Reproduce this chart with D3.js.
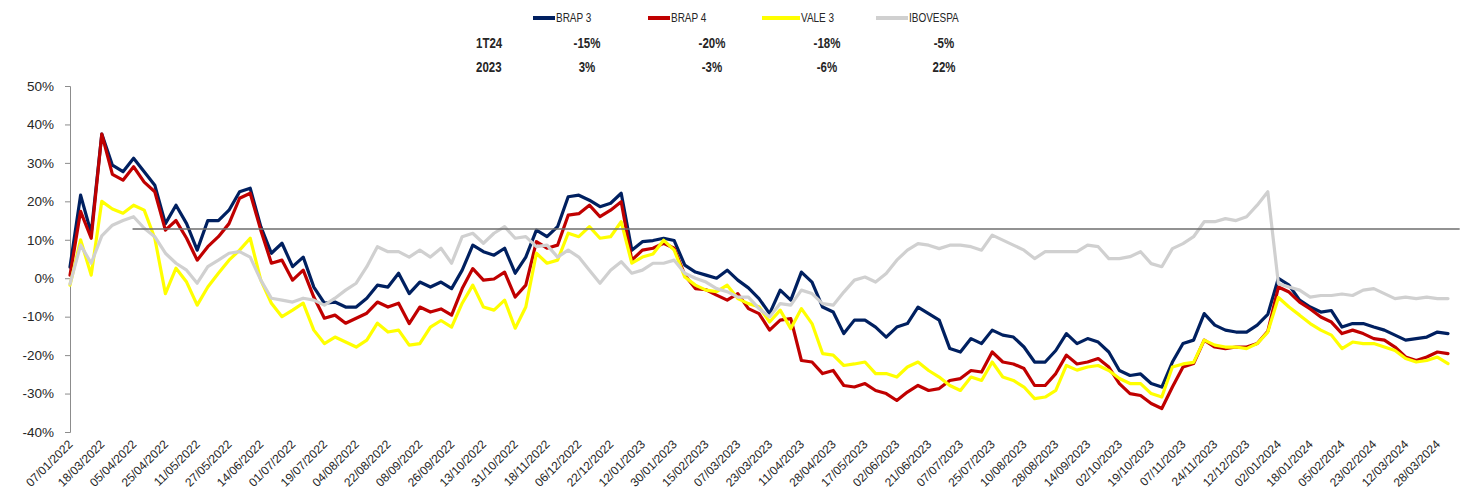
<!DOCTYPE html>
<html><head><meta charset="utf-8">
<script src="https://cdn.jsdelivr.net/npm/d3@7"></script>
<style>
html,body{margin:0;padding:0;background:#fff;}
svg{display:block;}
</style></head>
<body>
<div id="chart"></div>
<script>
// ---- data ----
const tickLabels = ["07/01/2022","18/03/2022","05/04/2022","25/04/2022","11/05/2022","27/05/2022","14/06/2022","01/07/2022","19/07/2022","04/08/2022","22/08/2022","08/09/2022","26/09/2022","13/10/2022","31/10/2022","18/11/2022","06/12/2022","22/12/2022","12/01/2023","30/01/2023","15/02/2023","07/03/2023","23/03/2023","11/04/2023","28/04/2023","17/05/2023","02/06/2023","21/06/2023","07/07/2023","25/07/2023","10/08/2023","28/08/2023","14/09/2023","02/10/2023","19/10/2023","07/11/2023","24/11/2023","12/12/2023","02/01/2024","18/01/2024","05/02/2024","23/02/2024","12/03/2024","28/03/2024"];
const yTicks = [50,40,30,20,10,0,-10,-20,-30,-40];
const seriesNames = ["BRAP 3","BRAP 4","VALE 3","IBOVESPA"];
const rowLabels = ["1T24","2023"];
const perf1T24 = ["-15%","-20%","-18%","-5%"];
const perf2023 = ["3%","-3%","-6%","22%"];

const brap3 = [2.9,21.6,11.7,37.5,29.4,27.7,31.2,27.7,24.2,14.2,19.0,14.2,7.3,15.0,15.0,17.7,22.5,23.4,13.4,6.5,9.1,3.0,5.5,-2.3,-6.5,-6.2,-7.5,-7.5,-5.2,-1.8,-2.3,1.3,-4.0,-1.0,-2.3,-1.0,-2.7,2.1,8.6,6.9,6.0,7.8,1.3,5.5,12.5,10.8,13.4,21.2,21.6,20.3,18.6,19.5,22.1,7.3,9.5,9.8,10.4,9.8,3.4,1.6,0.8,0.0,2.1,-0.5,-2.5,-5.3,-9.2,-3.1,-5.7,1.6,-1.0,-7.5,-8.8,-14.4,-10.9,-10.9,-12.7,-15.3,-12.7,-11.8,-7.5,-9.2,-10.9,-18.3,-19.2,-15.7,-17.0,-13.5,-14.8,-15.3,-17.9,-21.8,-21.8,-18.8,-14.4,-17.0,-15.7,-16.6,-19.2,-24.0,-25.3,-24.9,-27.4,-28.3,-21.8,-17.0,-16.1,-9.2,-12.2,-13.5,-14.0,-14.0,-12.2,-9.4,0.0,-1.8,-5.7,-7.5,-8.8,-8.4,-12.7,-11.8,-11.8,-12.7,-13.5,-14.8,-16.1,-15.7,-15.3,-14.0,-14.4];
const brap4 = [0.8,17.4,10.4,37.5,27.0,25.5,29.0,25.0,22.5,12.5,15.0,10.4,4.7,8.2,10.8,14.2,20.8,22.1,12.5,3.9,4.7,-0.5,2.1,-4.9,-10.4,-9.6,-11.7,-10.4,-9.1,-6.2,-7.5,-6.5,-11.8,-7.5,-8.8,-8.0,-9.6,-2.7,2.5,-0.5,-0.2,1.6,-4.9,-1.8,9.5,7.8,8.6,16.4,16.8,19.0,16.0,17.7,19.9,4.7,7.3,7.8,9.1,7.8,0.8,-2.7,-3.0,-4.4,-5.7,-4.0,-7.9,-9.2,-13.5,-10.9,-10.5,-21.4,-21.8,-24.8,-24.0,-27.9,-28.3,-27.4,-29.2,-30.0,-31.8,-29.6,-27.9,-29.2,-28.7,-26.6,-26.1,-24.0,-24.4,-19.2,-21.8,-22.3,-23.5,-27.9,-27.9,-24.8,-20.0,-22.3,-21.8,-20.9,-23.1,-27.4,-30.0,-30.5,-32.6,-33.9,-28.3,-23.1,-22.2,-16.1,-17.9,-18.3,-17.9,-17.9,-17.0,-13.8,-2.3,-3.6,-6.2,-8.0,-10.1,-11.4,-14.4,-13.5,-14.4,-15.7,-16.1,-17.9,-20.5,-21.4,-20.5,-19.2,-19.6];
const vale3 = [-1.8,10.0,0.8,20.0,18.0,16.9,19.0,17.7,10.4,-4.0,2.6,-1.0,-7.0,-2.3,1.3,4.7,7.3,10.4,-0.5,-6.5,-10.0,-8.3,-6.5,-13.5,-17.0,-15.3,-16.6,-17.9,-16.1,-11.7,-14.0,-13.5,-17.4,-17.0,-12.7,-11.0,-12.7,-6.5,-1.8,-7.5,-8.3,-5.7,-13.0,-7.5,6.5,3.9,4.7,11.7,10.8,13.4,10.4,10.8,14.7,3.9,5.5,6.3,9.9,7.3,0.3,-1.8,-3.1,-3.5,-1.8,-5.3,-6.6,-7.4,-11.4,-8.3,-13.1,-7.9,-11.8,-19.6,-20.0,-22.7,-22.3,-21.8,-24.8,-24.8,-25.7,-23.1,-21.8,-24.0,-25.7,-27.9,-29.2,-25.7,-26.6,-21.8,-25.7,-26.6,-28.3,-31.3,-30.9,-29.2,-22.7,-23.9,-23.1,-22.7,-24.0,-26.1,-27.4,-27.4,-30.0,-30.9,-23.1,-22.3,-21.9,-16.1,-17.4,-17.9,-17.9,-18.3,-17.0,-14.0,-5.0,-7.5,-9.6,-11.8,-13.5,-14.8,-18.3,-16.6,-17.0,-17.0,-17.9,-18.8,-20.9,-21.8,-21.4,-20.5,-22.2];
const ibov = [-1.5,8.6,3.9,11.0,13.8,15.0,16.0,13.0,10.8,6.5,3.9,2.1,-1.3,3.0,4.7,6.5,6.9,5.5,-0.5,-5.2,-5.7,-6.2,-5.2,-5.7,-7.0,-5.2,-3.1,-1.3,3.0,8.2,6.9,6.9,5.5,7.3,5.5,7.8,3.9,10.8,11.7,9.1,11.7,13.4,10.4,10.8,8.2,8.6,5.5,7.3,5.5,2.1,-1.3,2.1,4.3,1.3,2.1,3.9,3.9,4.7,1.3,0.0,-1.0,-2.7,-3.5,-4.9,-4.9,-7.9,-10.1,-6.6,-7.0,-3.1,-4.0,-6.6,-7.0,-3.6,-0.5,0.3,-1.0,1.2,4.7,7.3,9.0,8.6,7.7,8.6,8.6,8.2,7.3,11.2,9.9,8.6,7.3,5.1,6.9,6.9,6.9,6.9,8.6,8.2,5.1,5.1,5.6,6.9,3.8,3.0,7.7,9.0,10.8,14.7,14.7,15.5,15.0,16.0,19.0,22.5,-1.4,-2.3,-3.1,-4.9,-4.5,-4.5,-4.1,-4.5,-3.1,-2.7,-4.0,-5.3,-4.9,-5.3,-4.9,-5.3,-5.3];
const refLevel = [12.8];
const refSpan = [5.9, 131.1]; // in category index units

// ---- layout ----
const W = 1466, H = 493;
const colors = ["#002060","#C00000","#FFFF00","#D0D0D0"];
const svg = d3.select("#chart").append("svg").attr("width", W).attr("height", H);

const N = brap3.length;
const x = d3.scaleLinear().domain([0, N-1]).range([70, 1448]);
const y = d3.scaleLinear().domain([-40, 50]).range([432, 86]);

// y axis
const yAxis = d3.axisLeft(y).tickValues(yTicks).tickSize(5).tickPadding(11)
  .tickFormat(d => d + "%");
const gy = svg.append("g").attr("transform", "translate(70,0)").call(yAxis);
gy.select(".domain").attr("stroke", "#8c8c8c");
gy.selectAll(".tick line").attr("stroke", "#8c8c8c");
gy.selectAll(".tick text").attr("fill", "#262626")
  .style("font-family", "'Liberation Sans', Arial, sans-serif").style("font-size", "13.5px");

// x labels (every 3rd category)
const tickIdx = tickLabels.map((d,i) => i*3);
const xAxis = d3.axisBottom(x).tickValues(tickIdx).tickSize(0)
  .tickFormat((d,i) => tickLabels[i]);
const gx = svg.append("g").attr("transform", "translate(0,432)").call(xAxis);
gx.select(".domain").remove();
gx.selectAll(".tick text")
  .attr("text-anchor", "end")
  .attr("fill", "#262626")
  .attr("y", 0).attr("dy", 0)
  .attr("transform", "translate(3,13) rotate(-45)")
  .style("font-family", "'Liberation Sans', Arial, sans-serif").style("font-size", "12px");

// lines
const line = d3.line().x((d,i) => x(i)).y(d => y(d));
const allSeries = [brap3, brap4, vale3, ibov];
allSeries.forEach((s, k) => {
  svg.append("path").datum(s).attr("d", line)
    .attr("fill", "none").attr("stroke", colors[k]).attr("stroke-width", 3.2)
    .attr("stroke-linejoin", "round").attr("stroke-linecap", "round");
});

// reference line
svg.append("line")
  .attr("x1", x(refSpan[0])).attr("x2", x(refSpan[1]))
  .attr("y1", y(refLevel[0])).attr("y2", y(refLevel[0]))
  .attr("stroke", "#6e6e6e").attr("stroke-width", 1.3);

// legend (condensed look via horizontal scaling)
const fam = "'Liberation Sans', Arial, sans-serif";
const legX = [533, 648, 762, 876];
const legSw = [22, 22, 38, 32];
seriesNames.forEach((n, k) => {
  svg.append("line").attr("x1", legX[k]).attr("x2", legX[k] + legSw[k])
    .attr("y1", 18).attr("y2", 18).attr("stroke", colors[k]).attr("stroke-width", 4);
  svg.append("text")
    .attr("transform", `translate(${legX[k] + legSw[k] + 1},22) scale(0.8,1)`)
    .attr("fill", "#262626").style("font-family", fam).style("font-size", "12.5px").text(n);
});
const colX = [587, 712, 827, 944];
const rowY = [48, 72];
rowLabels.forEach((r, j) => {
  svg.append("text").attr("transform", `translate(476,${rowY[j]}) scale(0.82,1)`).attr("fill", "#262626")
    .style("font-family", fam).style("font-size", "14px").style("font-weight", "bold").text(r);
  const vals = j === 0 ? perf1T24 : perf2023;
  vals.forEach((v, k) => {
    svg.append("text").attr("transform", `translate(${colX[k]},${rowY[j]}) scale(0.82,1)`)
      .attr("text-anchor", "middle")
      .attr("fill", "#262626").style("font-family", fam).style("font-size", "14px")
      .style("font-weight", "bold").text(v);
  });
});
</script>
</body></html>
